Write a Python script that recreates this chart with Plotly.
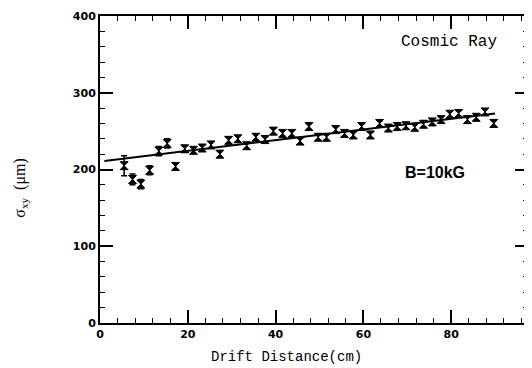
import plotly.graph_objects as go

drift_cm = [5.5, 7.4, 9.3, 11.3, 13.4, 15.3, 17.2, 19.3, 21.3, 23.3, 25.3, 27.3, 29.3, 31.4,
            33.4, 35.5, 37.6, 39.5, 41.6, 43.7, 45.6, 47.6, 49.7, 51.6, 53.7, 55.7, 57.7,
            59.6, 61.6, 63.7, 65.7, 67.7, 69.7, 71.7, 73.7, 75.7, 77.7, 79.7, 81.7, 83.7,
            85.7, 87.7, 89.7]
sigma_um = [205, 187, 181, 199, 224, 234, 204, 227, 225, 228, 232, 220, 238, 240,
            231, 242, 239, 250, 247, 247, 237, 256, 242, 242, 252, 247, 245,
            256, 245, 260, 254, 256, 257, 255, 259, 262, 265, 272, 273, 265,
            268, 275, 260]
sigma_err = [13, 7, 6, 6, 6, 6, 4, 4, 4, 4, 4, 4, 4, 4,
             4, 4, 4, 4, 4, 4, 4, 4, 4, 4, 4, 4, 4,
             4, 4, 4, 4, 4, 4, 4, 4, 4, 4, 4, 4, 4,
             4, 4, 4]
fit_x = [1, 90]
fit_y = [211, 273]

x_ticks = [0, 20, 40, 60, 80]
y_ticks = [0, 100, 200, 300, 400]

fig = go.Figure()
fig.add_trace(go.Scatter(x=fit_x, y=fit_y, mode="lines",
                         line=dict(color="black", width=2), showlegend=False))
fig.add_trace(go.Scatter(
    x=drift_cm, y=sigma_um, mode="markers",
    marker=dict(symbol="hourglass", color="black", size=8,
                line=dict(color="black", width=1)),
    error_y=dict(type="data", array=sigma_err, color="black", thickness=1.5, width=3),
    showlegend=False))

axis_common = dict(showgrid=False, zeroline=False, showline=True, linecolor="black",
                   linewidth=2, mirror="allticks", ticks="inside", ticklen=13,
                   tickwidth=1.5, tickcolor="black",
                   tickfont=dict(family="DejaVu Sans", size=11, color="black", weight="bold"))

fig.update_xaxes(range=[0, 97.5], tickvals=x_ticks,
                 minor=dict(dtick=4, ticks="inside", ticklen=5, tickwidth=1.2, tickcolor="black"),
                 **axis_common)
fig.update_yaxes(range=[0, 400], tickvals=y_ticks,
                 minor=dict(dtick=20, ticks="inside", ticklen=5, tickwidth=1.2, tickcolor="black"),
                 **axis_common)

fig.add_annotation(text="Drift Distance(cm)", xref="paper", yref="paper",
                   x=0.435, y=-0.111, showarrow=False, xanchor="center", yanchor="middle",
                   font=dict(family="Liberation Mono", size=14, color="black"))
fig.add_annotation(text="σ<sub>xy</sub>\u00a0\u00a0(μm)", xref="paper", yref="paper",
                   x=-0.185, y=0.44, showarrow=False, textangle=-90,
                   xanchor="center", yanchor="middle",
                   font=dict(family="Liberation Serif", size=16, color="black"))
fig.add_annotation(text="Cosmic Ray", xref="x", yref="y", x=79.4, y=366,
                   showarrow=False, xanchor="center", yanchor="middle",
                   font=dict(family="Liberation Mono", size=16, color="black"))
fig.add_annotation(text="<b>B=10kG</b>", xref="x", yref="y", x=76.3, y=196.6,
                   showarrow=False, xanchor="center", yanchor="middle",
                   font=dict(family="Liberation Sans", size=16, color="black"))

# the page body has an 8px default margin, so the figure is sized to fit the 532x368 window
fig.update_layout(width=524, height=360, plot_bgcolor="white", paper_bgcolor="white",
                  margin=dict(l=92, r=2, t=8, b=45))

fig.write_html("out.html")
